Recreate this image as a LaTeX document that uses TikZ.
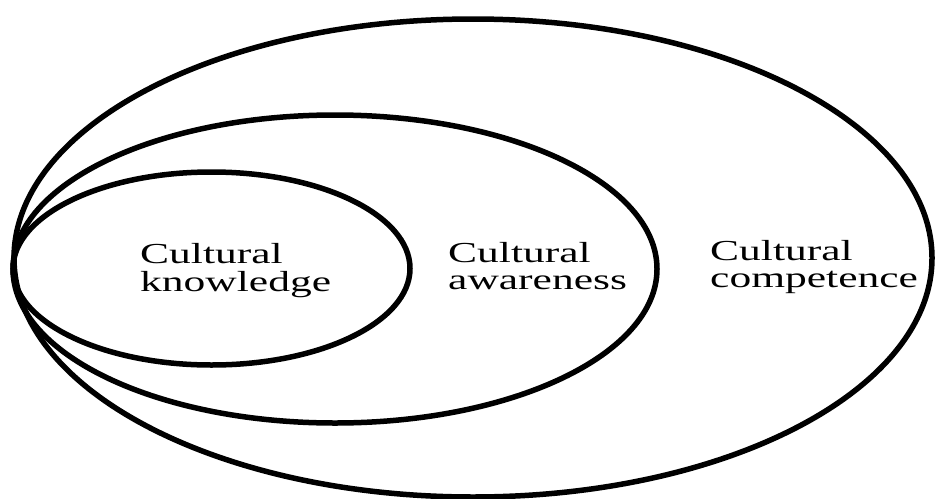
\documentclass[tikz,border=0pt]{standalone}
\usepackage{fontspec}
\setmainfont{Liberation Serif}
\begin{document}
\begin{tikzpicture}[x=1pt,y=-1pt,
  ring/.style={line width=5.5pt,draw=black},
  lbl/.style={anchor=base west,inner sep=0pt,font=\fontsize{29}{27}\selectfont}]
\useasboundingbox (0,0) rectangle (936,498);
\draw[ring] (473,258) ellipse [x radius=459,y radius=239];
\draw[ring] (335,269) ellipse [x radius=322,y radius=154];
\draw[ring] (211.5,268.5) ellipse [x radius=198.5,y radius=96.5];
\node[lbl] (know) at (140,263) {\scalebox{1.5}[1]{\begin{tabular}[t]{@{}l@{}}Cultural\\[0pt]knowledge\end{tabular}}};
\node[lbl] (aware) at (448,262) {\scalebox{1.5}[1]{\begin{tabular}[t]{@{}l@{}}Cultural\\[0pt]awareness\end{tabular}}};
\node[lbl] (comp) at (710,260) {\scalebox{1.5}[1]{\begin{tabular}[t]{@{}l@{}}Cultural\\[0pt]competence\end{tabular}}};
\end{tikzpicture}
\end{document}
